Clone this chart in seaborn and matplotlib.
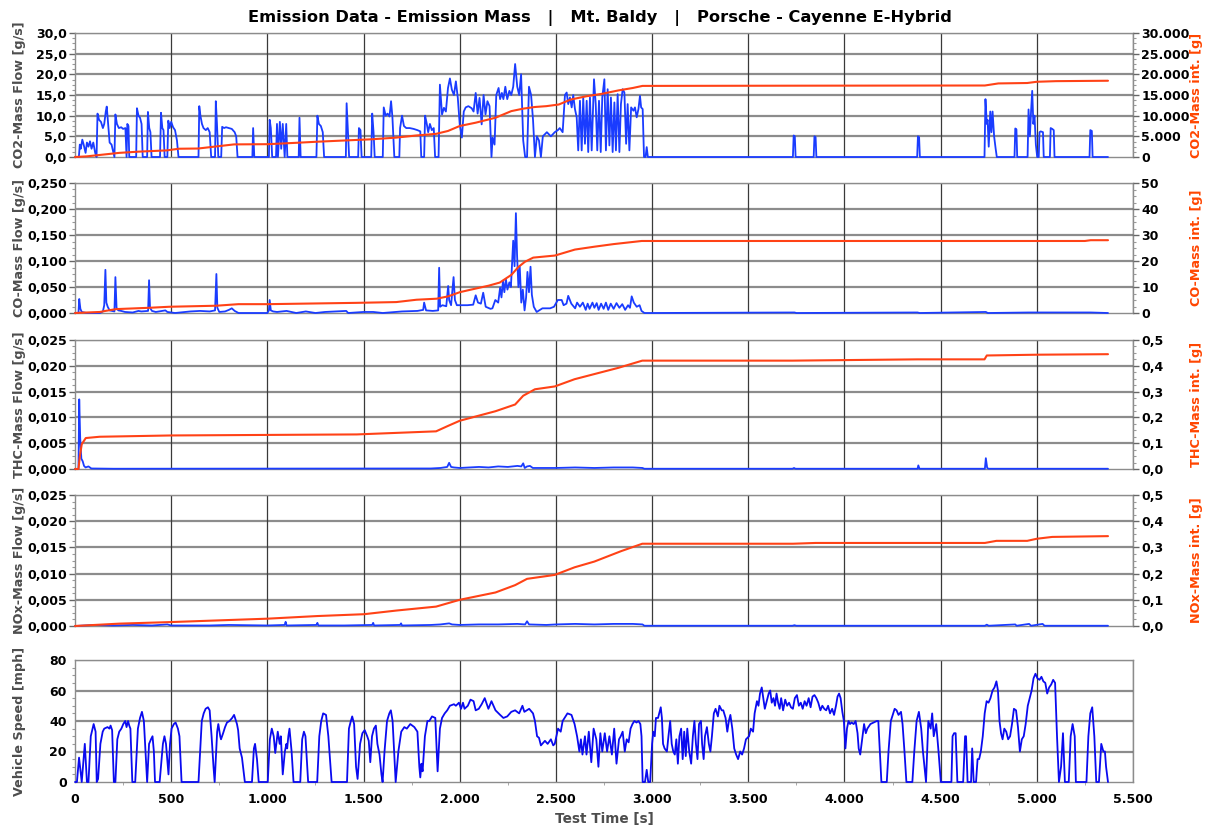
import matplotlib
matplotlib.use("Agg")
import matplotlib.pyplot as plt
import seaborn as sns
import pandas as pd
from matplotlib.ticker import FuncFormatter, MultipleLocator, AutoMinorLocator

# ---------------- data ----------------
co2_flow_t = [0,20,25,30,38,45,55,62,70,78,86,95,105,112,117,125,135,145,152,160,165,172,180,190,200,205,
              210,218,228,240,250,262,268,272,278,282,318,322,330,338,346,352,375,379,386,392,398,442,447,454,460,466,
              480,485,492,500,510,520,530,538,642,646,652,660,668,680,690,700,708,728,732,738,745,760,765,775,785,800,
              815,830,838,845,922,926,932,1008,1012,1018,1025,1045,1050,1055,1065,1072,1080,1090,1098,1104,1163,1167,
              1173,1255,1260,1268,1278,1288,1295,1408,1412,1418,1425,1472,1476,1484,1490,1540,1545,1552,1558,1600,1605,
              1615,1625,1635,1643,1650,1660,1686,1690,1700,1710,1722,1740,1760,1780,1795,1800,1815,1820,1828,1836,1845,
              1855,1865,1872,1890,1897,1908,1918,1928,1939,1949,1959,1970,1980,1990,2000,2011,2021,2031,2045,2062,2072,
              2083,2093,2103,2114,2124,2134,2144,2155,2165,2171,2181,2190,2202,2210,2219,2227,2237,2247,2258,2268,2278,
              2288,2299,2309,2319,2330,2340,2350,2360,2371,2381,2391,2401,2412,2422,2432,2453,2474,2494,2510,2520,2535,
              2547,2556,2564,2573,2582,2590,2599,2608,2616,2625,2634,2642,2651,2660,2668,2677,2686,2698,2707,2715,2724,
              2733,2741,2752,2760,2769,2778,2786,2795,2804,2812,2821,2830,2838,2847,2856,2865,2873,2882,2891,2903,2911,
              2920,2929,2937,2943,2951,2958,2966,2972,2978,3732,3736,3742,3746,3840,3844,3850,3854,4378,4382,4388,4392,
              4728,4733,4740,4744,4750,4758,4764,4770,4778,4786,4792,4884,4888,4894,4898,4952,4957,4964,4970,4976,4982,
              4988,4995,5002,5010,5014,5020,5032,5036,5068,5072,5080,5088,5092,5274,5278,5286,5290,5370]
co2_flow_v = [0,0,3,2,4.2,3,1,3.5,2.5,3.8,2,3.5,1,0,10.5,9,8.5,7,8,11,12.2,8,3.5,3,1,0,
              10.3,8,7,7.2,6.8,7,0,8,7.5,0,0,11.8,10,9.5,8,0,0,10.9,7,6,0,0,10.7,7,6.5,0,
              0,8.8,7,8.5,7.2,6.5,4,0,0,12.3,10,8,7,6.5,7,6,0,0,13.5,8,0,0,7.3,7,7.2,7,
              6.8,6,5,0,0,7,0,0,9,7,0,0,8,0,8.5,2,8,0,8,0,0,9.5,
              0,0,10,8,7.5,6,0,0,13,7,0,0,7,6.5,0,0,10.5,6,0,0,12,
              10,10.5,9.8,13.5,9.7,0,0,7,10,7.5,7,7,6.8,6.5,6.2,0,0,10,8.2,6,8,
              6.5,7,0,0,17.5,10.3,11.9,11,16.7,19,16.3,15,18.3,14.3,7.9,4.7,11,12,12.3,11.8,11,
              15.5,10.5,14.3,7.9,15,10.3,13.5,12.3,0,4.7,3,15,16.7,14,15.5,14,17,14,16,15,17,
              22.5,17,15,20,4,0,0,17,15,9,0,5,4,0,5,6,5,6,6.5,7,6,
              15,15.6,12.8,14.4,12,15,11.6,9.6,1.6,13.6,1.6,14.4,3.2,13.6,1.2,14.4,1.6,18.8,12.8,1.6,13.6,
              1.2,14.4,18.8,1.6,16.4,2.8,14.4,1.2,13.2,1.6,15.2,1.2,12.8,16.4,15.6,3.2,12.8,1.6,12,11.2,12,
              9.6,11.6,14.8,12,11.6,0,0,2.4,0,0,5.2,5,0,0,5,4.8,0,0,5,4.8,0,
              0,14,8,9,2.5,11,6,11,5,2,0,0,6.9,6.7,0,0,11.5,5,11,16,8,
              10,3,0,0,6,6.2,6,0,0,7,6.8,6.5,0,0,6.5,6.3,0,0]

co2_int_t = [0,60,130,230,333,477,540,640,724,827,1002,1157,1260,1403,1548,1671,1774,1877,1939,2000,2083,2186,
             2268,2330,2391,2450,2515,2577,2659,2741,2824,2900,2950,3700,4730,4800,4950,5000,5100,5370]
co2_int_v = [0,150,500,1000,1300,1600,2000,2050,2500,3050,3100,3450,3700,4000,4300,4700,5200,5600,6300,7500,8300,
             9500,11100,11700,12100,12300,12700,13900,14700,15300,16100,16700,17200,17250,17300,17800,17900,18200,
             18350,18450]

co_flow_t = [0,18,22,28,35,60,130,145,152,158,163,170,180,205,210,216,225,240,260,300,330,345,380,385,390,400,420,
             470,480,520,600,650,700,728,735,740,750,780,800,815,830,850,1000,1008,1012,1018,1030,1050,1100,1150,1200,
             1250,1300,1410,1420,1500,1550,1600,1700,1780,1810,1815,1825,1860,1888,1893,1898,1910,1930,1940,1945,1955,
             1968,1975,1985,2000,2040,2070,2083,2095,2110,2122,2135,2160,2170,2185,2200,2210,2217,2225,2232,2240,2248,
             2258,2266,2278,2285,2292,2298,2305,2312,2320,2328,2337,2345,2352,2360,2368,2375,2385,2400,2430,2470,2490,
             2510,2530,2540,2555,2564,2580,2600,2610,2625,2640,2655,2665,2675,2690,2700,2712,2722,2735,2748,2760,2772,
             2785,2800,2815,2830,2845,2860,2875,2885,2894,2905,2920,2935,2945,2960,3000,3740,3750,4380,4390,4735,4745,
             4960,5030,5280,5370]
co_flow_v = [0,0,0.027,0.008,0.002,0,0,0.003,0.015,0.083,0.02,0.012,0.005,0.003,0.069,0.01,0.005,0.004,0.002,0.001,
             0.004,0.003,0.004,0.063,0.01,0.004,0.002,0.005,0.002,0,0.003,0.004,0.003,0.005,0.075,0.01,0.002,0.003,
             0.006,0.009,0.004,0,0,0.005,0.025,0.005,0.003,0.002,0.004,0,0.003,0,0.002,0.004,0,0.002,0.002,0,0.003,
             0.004,0.006,0.02,0.005,0.004,0.005,0.087,0.012,0.015,0.013,0.052,0.025,0.015,0.069,0.025,0.015,0.015,
             0.015,0.016,0.034,0.02,0.018,0.039,0.012,0.008,0.009,0.025,0.02,0.049,0.03,0.062,0.04,0.065,0.045,0.059,
             0.05,0.139,0.09,0.192,0.112,0.05,0.089,0.02,0.045,0.005,0.03,0.079,0.04,0.089,0.035,0.012,0.002,0.009,
             0.009,0.012,0.025,0.025,0.015,0.018,0.033,0.018,0.009,0.02,0.012,0.02,0.006,0.018,0.008,0.02,0.01,0.019,
             0.006,0.018,0.008,0.02,0.006,0.018,0.008,0.019,0.01,0.017,0.006,0.015,0.01,0.032,0.02,0.012,0.015,0.004,
             0,0,0.001,0,0.001,0,0.002,0,0.001,0.001,0.001,0]

co_int_t = [0,130,158,214,385,490,735,850,1002,1460,1670,1775,1880,1940,2000,2083,2150,2208,2269,2305,2339,2382,
            2495,2599,2700,2800,2946,5250,5280,5370]
co_int_v = [0,0.4,0.8,1.5,2.0,2.4,2.8,3.4,3.4,3.9,4.2,5.1,5.5,6.4,8.0,9.4,10.5,11.7,14.7,17.7,19.7,21.3,22.1,24.4,
            25.5,26.5,27.7,27.7,28.0,28.0]

thc_flow_t = [0,18,22,27,33,40,47,55,70,85,200,1850,1900,1935,1945,1955,1970,2000,2050,2100,2150,2200,2250,2300,
              2320,2330,2338,2350,2365,2380,2500,2600,2700,2800,2900,2950,2960,3730,3738,3745,4380,4384,4390,4730,
              4735,4742,4750,5370]
thc_flow_v = [0,0,0.0135,0.006,0.002,0.0015,0.0006,0.0003,0.0005,0.0001,0.00005,0.0001,0.0002,0.0004,0.0012,0.0004,
              0.0003,0.0002,0.0003,0.0004,0.0003,0.0005,0.0004,0.0006,0.0005,0.0011,0.0002,0.0005,0.0006,0.0002,
              0.0002,0.0003,0.0002,0.0003,0.0003,0.0002,0.00005,0.00005,0.0002,0.00005,0.00005,0.0007,0.00005,
              0.00005,0.0021,0.0002,0.00005,0.00005]

thc_int_t = [0,18,25,35,56,128,498,1465,1877,1939,2000,2186,2288,2330,2391,2494,2597,2824,2949,3730,4380,4728,
             4740,5000,5370]
thc_int_v = [0,0,0.048,0.096,0.12,0.125,0.13,0.134,0.146,0.167,0.187,0.224,0.25,0.284,0.309,0.32,0.348,0.392,0.42,
             0.42,0.425,0.425,0.44,0.443,0.445]

nox_flow_t = [0,50,100,200,300,400,480,500,700,800,1000,1090,1095,1100,1255,1260,1265,1400,1545,1550,1555,1690,
              1695,1700,1850,1900,1945,1960,2000,2100,2200,2300,2340,2350,2360,2450,2500,2600,2700,2800,2900,2950,
              2960,3730,3740,3750,4730,4740,4750,4888,4895,4960,4970,5030,5040,5370]
nox_flow_v = [0,0.0001,0.0002,0.0001,0.0002,0.0001,0.0003,0.0001,0.0001,0.0002,0.0001,0.0002,0.0008,0.0001,0.0002,
              0.0006,0.0001,0.0001,0.0002,0.0006,0.0001,0.0002,0.0005,0.0001,0.0002,0.0003,0.0005,0.0003,0.0002,
              0.0003,0.0003,0.0004,0.0003,0.0009,0.0003,0.0002,0.0003,0.0004,0.0003,0.0004,0.0004,0.0003,0.00005,
              0.00005,0.00015,0.00005,0.00005,0.00025,0.00005,0.0003,0.00005,0.0004,0.00005,0.0004,0.00005,0.00005]

nox_int_t = [0,230,498,1002,1260,1502,1671,1877,2000,2186,2288,2350,2494,2597,2700,2840,2949,3732,3850,4730,4790,
             4950,5000,5080,5370]
nox_int_v = [0,0.009,0.015,0.028,0.038,0.045,0.059,0.074,0.1,0.128,0.156,0.18,0.195,0.224,0.246,0.286,0.314,0.314,
             0.317,0.317,0.325,0.325,0.333,0.34,0.343]

speed_t = [0,10,21,35,51,62,70,82,97,107,113,120,132,144,152,169,179,185,193,202,210,220,230,241,251,261,268,276,
           282,288,298,313,327,338,348,358,375,385,395,403,410,416,440,457,465,473,486,494,502,514,523,535,543,554,
           642,659,669,679,691,700,710,720,726,739,745,755,759,770,780,790,803,817,827,842,848,856,868,883,920,930,
           936,946,955,1002,1013,1023,1033,1041,1054,1064,1070,1080,1091,1099,1103,1109,1115,1126,1136,1171,1181,
           1190,1198,1212,1259,1270,1280,1290,1305,1317,1334,1414,1424,1434,1441,1451,1461,1469,1482,1494,1506,1519,
           1527,1535,1544,1554,1564,1572,1583,1593,1599,1609,1622,1634,1642,1651,1667,1681,1696,1712,1725,1743,1764,
           1780,1790,1795,1801,1807,1819,1832,1842,1856,1873,1885,1897,1908,1922,1935,1949,1970,1980,1996,2007,2017,
           2025,2042,2056,2072,2083,2099,2114,2130,2149,2165,2186,2202,2210,2227,2247,2268,2288,2309,2326,2336,2361,
           2381,2391,2402,2412,2422,2443,2457,2474,2486,2494,2511,2525,2535,2560,2581,2597,2610,2622,2630,2638,2651,
           2659,2671,2684,2696,2710,2721,2731,2741,2754,2766,2778,2791,2803,2815,2828,2837,2847,2858,2868,2878,2888,
           2898,2908,2919,2929,2939,2945,2951,2963,2972,2980,2990,3000,3006,3014,3020,3031,3037,3045,3051,3057,3065,
           3077,3085,3094,3102,3110,3118,3126,3134,3142,3151,3159,3167,3175,3183,3193,3203,3212,3220,3228,3236,3244,
           3254,3260,3268,3275,3285,3295,3303,3311,3321,3330,3342,3350,3362,3370,3382,3391,3399,3407,3417,3427,3437,
           3447,3458,3468,3478,3488,3504,3513,3525,3533,3545,3553,3561,3570,3578,3586,3594,3606,3614,3622,3631,3639,
           3647,3655,3663,3671,3681,3692,3702,3712,3722,3732,3742,3753,3763,3773,3783,3793,3803,3814,3824,3834,3844,
           3854,3864,3875,3885,3895,3905,3915,3925,3936,3946,3956,3964,3972,3980,3989,3997,4005,4013,4021,4029,4037,
           4048,4058,4068,4074,4082,4094,4102,4111,4119,4135,4151,4168,4176,4184,4192,4220,4229,4241,4251,4261,4271,
           4281,4294,4302,4312,4322,4353,4363,4375,4387,4399,4408,4424,4436,4448,4456,4464,4477,4489,4501,4556,4562,
           4570,4578,4587,4617,4627,4632,4640,4658,4664,4672,4684,4692,4700,4709,4719,4729,4739,4749,4759,4770,4780,
           4790,4798,4806,4814,4822,4831,4841,4851,4861,4871,4881,4892,4902,4912,4922,4932,4942,4953,4963,4973,4983,
           4993,5003,5014,5024,5034,5044,5054,5064,5075,5085,5095,5105,5115,5126,5136,5146,5166,5176,5186,5197,5203,
           5258,5268,5278,5288,5299,5309,5323,5335,5346,5354,5360,5370]
speed_v = [0,0,16,0,25,0,0,30,38,33,0,2,25,33,35,36,35,37,34,0,0,28,33,35,38,40,36,40,
           37,35,0,0,35,42,46,40,0,25,28,30,20,0,0,25,30,25,5,25,35,38,39,35,30,0,
           0,40,45,48,49,47,30,10,0,33,38,30,28,32,36,39,40,42,44,38,34,22,16,0,0,22,
           25,15,0,0,28,35,30,19,33,25,30,5,20,25,22,30,35,20,0,0,28,
           33,30,0,0,30,40,45,44,30,0,0,35,40,43,38,10,2,25,32,34,30,
           27,13,30,35,37,25,18,5,0,20,40,45,47,40,0,20,33,36,35,38,36,
           33,10,3,12,7,30,40,40,43,42,7,35,42,45,47,50,51,50,52,48,52,
           48,50,54,53,47,48,51,55,48,53,47,45,44,42,43,46,47,45,50,46,48,
           45,40,30,29,24,27,25,28,24,25,35,33,40,45,44,38,30,20,28,18,30,
           18,33,13,35,28,10,32,20,32,20,30,18,35,12,28,30,33,20,28,26,35,
           38,40,39,40,38,30,0,0,8,0,0,25,33,30,42,42,45,49,42,25,22,
           20,30,40,25,20,18,28,12,30,35,15,33,17,35,20,12,30,40,25,15,38,
           40,25,15,30,36,25,20,30,45,48,43,50,47,47,42,33,40,44,35,22,18,
           15,20,18,22,28,30,35,33,45,53,50,58,62,55,48,52,58,60,52,55,50,
           58,52,48,55,47,54,50,52,49,48,55,57,50,52,48,53,50,55,49,56,57,
           55,52,47,50,48,47,50,45,48,44,50,56,58,55,46,40,22,35,40,38,39,
           38,40,32,22,18,30,38,32,35,38,39,40,40,20,0,0,20,40,44,48,47,
           44,46,38,20,0,0,20,40,46,35,20,0,40,35,45,30,38,20,0,0,30,
           32,32,0,0,30,30,0,0,22,0,0,15,15,20,30,45,53,52,55,60,62,
           66,60,40,32,28,35,33,28,30,38,48,47,36,20,28,30,38,50,55,60,68,
           71,68,67,69,66,65,58,62,64,67,65,30,0,10,32,0,0,30,38,30,0,
           0,30,45,49,30,0,0,25,20,20,10,0]

x_ticks = [0, 500, 1000, 1500, 2000, 2500, 3000, 3500, 4000, 4500, 5000, 5500]
title_text = "Emission Data - Emission Mass   |   Mt. Baldy   |   Porsche - Cayenne E-Hybrid"

# ---------------- style ----------------
sns.set_style("white")
plt.rcParams['font.family'] = ['DejaVu Sans']
plt.rcParams['font.weight'] = 'bold'
plt.rcParams['axes.labelweight'] = 'bold'

BLUE = '#1a3cff'
BLUE2 = '#0a0af0'
ORANGE = '#ff4216'
GRAYLBL = '#4d4d4d'
REDLBL = '#ff4500'
TICKFS = 9
LBLFS = 9.2

def de_fmt(dec):
    def f(v, pos):
        s = f"{v:,.{dec}f}"
        return s.replace(',', 'X').replace('.', ',').replace('X', '.')
    return FuncFormatter(f)

fig = plt.figure(figsize=(12.12, 8.36), dpi=100)
L, W = 75 / 1212, 1058 / 1212

def make_ax(top, bot):
    return fig.add_axes([L, 1 - bot / 836, W, (bot - top) / 836])

def style_ax(ax, ymax, ystep, ydec, ylabel, last=False):
    ax.set_xlim(0, 5500)
    ax.set_ylim(0, ymax)
    ax.set_xticks(x_ticks)
    ax.yaxis.set_major_locator(MultipleLocator(ystep))
    ax.yaxis.set_minor_locator(AutoMinorLocator(4))
    ax.yaxis.set_major_formatter(de_fmt(ydec))
    ax.grid(False)
    for y in [ystep * i for i in range(1, int(round(ymax / ystep)) + 1)]:
        ax.axhline(y, color='#8c8c8c', lw=1.6, zorder=0.5)
    for x in x_ticks[1:]:
        ax.axvline(x, color='#3a3a3a', lw=0.9, zorder=0.6)
    for s in ['left', 'right', 'top', 'bottom']:
        ax.spines[s].set_color('#8c8c8c')
        ax.spines[s].set_linewidth(1.0)
    ax.tick_params(axis='y', which='major', length=4, width=1, color='#666666',
                   labelsize=TICKFS, labelcolor='black', pad=2)
    ax.tick_params(axis='y', which='minor', length=2, width=0.8, color='#999999', left=True)
    ax.set_ylabel(ylabel, color=GRAYLBL, fontsize=LBLFS, fontweight='bold')
    ax.yaxis.set_label_coords(-0.046, 0.5)
    if last:
        ax.xaxis.set_major_formatter(de_fmt(0))
        ax.xaxis.set_minor_locator(MultipleLocator(250))
        ax.tick_params(axis='x', which='major', length=4, width=1, color='#666666',
                       labelsize=TICKFS, labelcolor='black', pad=4)
        ax.tick_params(axis='x', which='minor', length=2, color='#999999', bottom=True)
        ax.set_xlabel("Test Time [s]", color=GRAYLBL, fontsize=9.8, fontweight='bold', labelpad=4)
    else:
        ax.tick_params(axis='x', which='both', bottom=False, labelbottom=False)
        ax.set_xlabel("")

def style_right(ax2, ymax, ystep, ydec, label):
    ax2.set_ylim(0, ymax)
    ax2.yaxis.set_major_locator(MultipleLocator(ystep))
    ax2.yaxis.set_minor_locator(AutoMinorLocator(4))
    ax2.yaxis.set_major_formatter(de_fmt(ydec))
    ax2.grid(False)
    for s in ['left', 'right', 'top', 'bottom']:
        ax2.spines[s].set_visible(False)
    ax2.tick_params(axis='y', which='major', length=4, width=1, color='#666666',
                    labelsize=TICKFS, labelcolor='black', pad=2, right=True, left=False)
    ax2.tick_params(axis='y', which='minor', length=2, width=0.8, color='#999999', right=True)
    ax2.set_ylabel(label, color=REDLBL, fontsize=LBLFS, fontweight='bold')
    ax2.yaxis.set_label_coords(1.054, 0.5)

def plot_line(ax, t, v, color, lw):
    df = pd.DataFrame({'t': t, 'v': v})
    sns.lineplot(data=df, x='t', y='v', ax=ax, color=color, lw=lw, estimator=None,
                 sort=False, clip_on=False, zorder=3)

panels = [
    (33, 157, co2_flow_t, co2_flow_v, 30, 5, 1, "CO2-Mass Flow [g/s]",
     co2_int_t, co2_int_v, 30000, 5000, 0, "CO2-Mass int. [g]"),
    (183, 313, co_flow_t, co_flow_v, 0.25, 0.05, 3, "CO-Mass Flow [g/s]",
     co_int_t, co_int_v, 50, 10, 0, "CO-Mass int. [g]"),
    (340, 469, thc_flow_t, thc_flow_v, 0.025, 0.005, 3, "THC-Mass Flow [g/s]",
     thc_int_t, thc_int_v, 0.5, 0.1, 1, "THC-Mass int. [g]"),
    (495, 626, nox_flow_t, nox_flow_v, 0.025, 0.005, 3, "NOx-Mass Flow [g/s]",
     nox_int_t, nox_int_v, 0.5, 0.1, 1, "NOx-Mass int. [g]"),
]

for (top, bot, ft, fv, ymax, ystep, ydec, ylab, it, iv, ymax2, ystep2, ydec2, rlab) in panels:
    ax = make_ax(top, bot)
    plot_line(ax, ft, fv, BLUE, 1.3)
    style_ax(ax, ymax, ystep, ydec, ylab)
    ax2 = ax.twinx()
    plot_line(ax2, it, iv, ORANGE, 1.5)
    style_right(ax2, ymax2, ystep2, ydec2, rlab)
    ax2.set_xlim(0, 5500)

ax5 = make_ax(660, 782)
plot_line(ax5, speed_t, speed_v, BLUE2, 1.3)
style_ax(ax5, 80, 20, 0, "Vehicle Speed [mph]", last=True)
ax5.tick_params(axis='y', which='major', right=False)

fig.text(0.495, 1 - 18 / 836, title_text, ha='center', va='center',
         fontsize=11.7, fontweight='bold', color='black')

fig.savefig("out.png", dpi=100, facecolor='white')
